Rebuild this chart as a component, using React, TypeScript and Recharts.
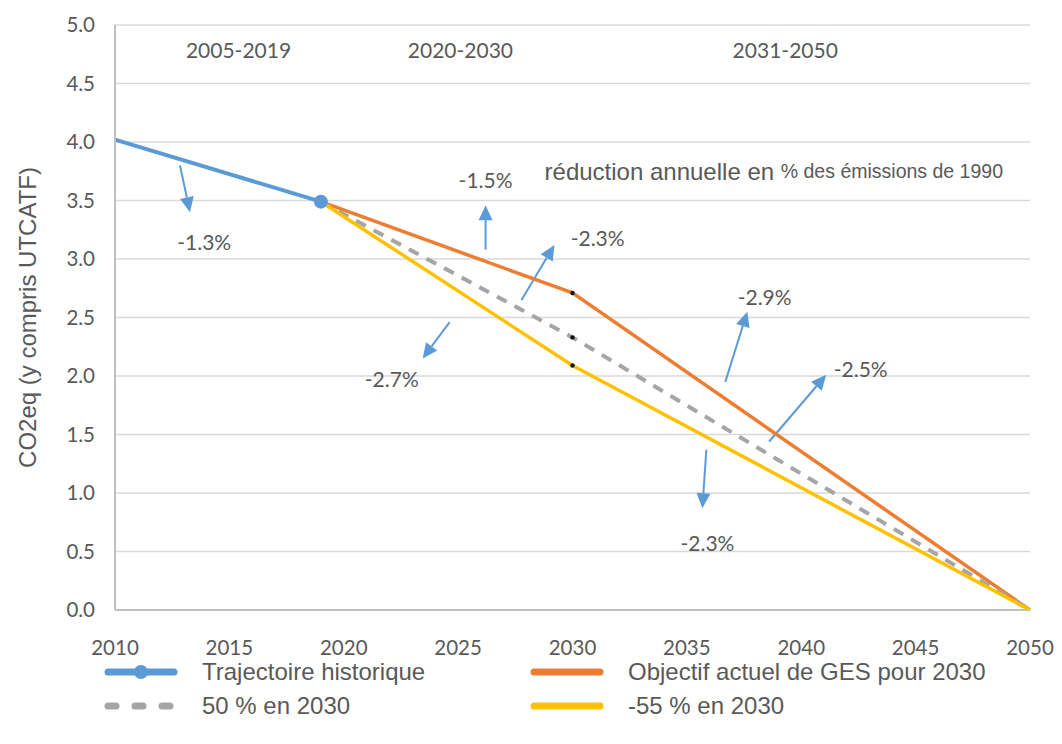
import {
  LineChart,
  Line,
  XAxis,
  YAxis,
  CartesianGrid,
  ReferenceLine,
  ReferenceDot,
} from "recharts";

// années et trajectoires (Gt CO2eq)
const years = [2010, 2019, 2030, 2050];
const historique = [4.02, 3.49, null, null];
const objectifActuel = [null, 3.49, 2.71, 0];
const cinquante = [null, 3.49, 2.33, 0];
const cinquanteCinq = [null, 3.49, 2.09, 0];

const xTicks = [2010, 2015, 2020, 2025, 2030, 2035, 2040, 2045, 2050];
const yTicks = [0, 0.5, 1, 1.5, 2, 2.5, 3, 3.5, 4, 4.5, 5];

// périodes en haut du graphique
const periodLabels = ["2005-2019", "2020-2030", "2031-2050"];
const periodX = [2015.4, 2025.1, 2039.3];
const periodY = 4.79;

// flèches de réduction annuelle : [x, y] départ -> arrivée
const arrowFrom = [
  [2012.84, 3.8],
  [2026.2, 3.08],
  [2027.77, 2.65],
  [2024.63, 2.46],
  [2036.68, 1.95],
  [2038.6, 1.44],
  [2035.85, 1.37],
];
const arrowTo = [
  [2013.28, 3.4],
  [2026.2, 3.46],
  [2029.21, 3.12],
  [2023.45, 2.15],
  [2037.64, 2.55],
  [2041.09, 2.01],
  [2035.68, 0.87],
];
const rateLabels = ["-1.3%", "-1.5%", "-2.3%", "-2.7%", "-2.9%", "-2.5%", "-2.3%"];
const rateX = [2013.9, 2026.2, 2031.1, 2022.1, 2038.4, 2042.6, 2035.9];
const rateY = [3.15, 3.68, 3.18, 1.98, 2.68, 2.06, 0.58];

const data = years.map((y, i) => ({
  year: y,
  historique: historique[i],
  objectif: objectifActuel[i],
  cinquante: cinquante[i],
  cinquanteCinq: cinquanteCinq[i],
}));

const BLUE = "#5B9BD5";
const ORANGE = "#ED7D31";
const GREY = "#A5A5A5";
const YELLOW = "#FFC000";
const TEXT = "#595959";
const NUM_FONT = "Lato, 'Open Sans', sans-serif";
const SANS = "'Liberation Sans', Arial, sans-serif";

const series = [
  { key: "historique", name: "Trajectoire historique", color: BLUE, dash: undefined, marker: true },
  { key: "cinquante", name: "50 % en 2030", color: GREY, dash: "8 19", marker: false },
  { key: "objectif", name: "Objectif actuel de GES pour 2030", color: ORANGE, dash: undefined, marker: false },
  { key: "cinquanteCinq", name: "-55 % en 2030", color: YELLOW, dash: undefined, marker: false },
];

function Arrow(props: any) {
  const { x1, y1, x2, y2 } = props;
  const dx = x2 - x1;
  const dy = y2 - y1;
  const len = Math.sqrt(dx * dx + dy * dy) || 1;
  const ux = dx / len;
  const uy = dy / len;
  const head = 15;
  const half = 7;
  const bx = x2 - ux * head;
  const by = y2 - uy * head;
  const pts = `${x2},${y2} ${bx - uy * half},${by + ux * half} ${bx + uy * half},${by - ux * half}`;
  return (
    <g>
      <line x1={x1} y1={y1} x2={bx} y2={by} stroke={BLUE} strokeWidth={2} />
      <polygon points={pts} fill={BLUE} />
    </g>
  );
}

function histDot(p: any) {
  if (p.index !== 1) return <g key={p.key ?? p.index} />;
  return <circle key={p.key ?? p.index} cx={p.cx} cy={p.cy} r={7} fill={BLUE} />;
}

function blackDot(p: any) {
  if (p.index !== 2) return <g key={p.key ?? p.index} />;
  return <circle key={p.key ?? p.index} cx={p.cx} cy={p.cy} r={2.2} fill="#111" />;
}

function LegendItem({ s }: any) {
  return (
    <div style={{ display: "flex", alignItems: "center", height: 34 }}>
      <svg width={98} height={20}>
        <line
          x1={4}
          y1={10}
          x2={70}
          y2={10}
          stroke={s.color}
          strokeWidth={7}
          strokeLinecap="round"
          strokeDasharray={s.dash}
        />
        {s.marker && <circle cx={37} cy={10} r={7} fill={s.color} />}
      </svg>
      <span style={{ fontFamily: SANS, fontSize: 24, color: TEXT }}>{s.name}</span>
    </div>
  );
}

export default function App() {
  return (
    <div style={{ position: "absolute", left: 0, top: 0, width: 1062, height: 744, background: "#fff" }}>
      <LineChart
        width={1062}
        height={744}
        data={data}
        margin={{ top: 25, right: 32, left: 55, bottom: 94 }}
      >
        <CartesianGrid vertical={false} stroke="#D9D9D9" strokeWidth={1.5} />
        <XAxis
          dataKey="year"
          type="number"
          domain={[2010, 2050]}
          ticks={xTicks}
          height={40}
          tickSize={0}
          tickMargin={30}
          axisLine={{ stroke: "#BFBFBF", strokeWidth: 2 }}
          tick={{ fill: TEXT, fontSize: 20.5, fontFamily: NUM_FONT }}
        />
        <YAxis
          type="number"
          domain={[0, 5]}
          ticks={yTicks}
          width={60}
          tickSize={0}
          tickMargin={20}
          tickFormatter={(v: number) => v.toFixed(1)}
          axisLine={{ stroke: "#BFBFBF", strokeWidth: 2 }}
          tick={{ fill: TEXT, fontSize: 20.5, fontFamily: NUM_FONT }}
          label={{
            content: ({ viewBox }: any) => {
              const cx = viewBox.x - 28;
              const cy = viewBox.y + viewBox.height / 2;
              return (
                <text
                  x={cx}
                  y={cy}
                  transform={`rotate(-90 ${cx} ${cy})`}
                  textAnchor="middle"
                  dominantBaseline="central"
                  fill={TEXT}
                  fontSize={24}
                  fontFamily={SANS}
                >
                  CO2eq (y compris UTCATF)
                </text>
              );
            },
          }}
        />

        {periodLabels.map((t, i) => (
          <ReferenceDot
            key={t}
            x={periodX[i]}
            y={periodY}
            r={0}
            shape={(p: any) => (
              <text x={p.cx} y={p.cy} textAnchor="middle" dominantBaseline="central" fill={TEXT} fontSize={21} fontFamily={NUM_FONT}>
                {t}
              </text>
            )}
          />
        ))}

        <ReferenceDot
          x={2028.78}
          y={3.75}
          r={0}
          shape={(p: any) => (
            <text x={p.cx} y={p.cy} textAnchor="start" dominantBaseline="central" fill={TEXT} fontFamily={SANS}>
              <tspan fontSize={24}>réduction annuelle en </tspan>
              <tspan fontSize={19.5}>% des émissions de 1990</tspan>
            </text>
          )}
        />

        {arrowFrom.map((a, i) => (
          <ReferenceLine
            key={"arr" + i}
            segment={[
              { x: a[0], y: a[1] },
              { x: arrowTo[i][0], y: arrowTo[i][1] },
            ]}
            shape={Arrow}
          />
        ))}

        {rateLabels.map((t, i) => (
          <ReferenceDot
            key={"rate" + i}
            x={rateX[i]}
            y={rateY[i]}
            r={0}
            shape={(p: any) => (
              <text x={p.cx} y={p.cy} textAnchor="middle" dominantBaseline="central" fill={TEXT} fontSize={21} fontFamily={NUM_FONT}>
                {t}
              </text>
            )}
          />
        ))}

        <Line
          dataKey="historique"
          stroke={BLUE}
          strokeWidth={4}
          dot={histDot}
          activeDot={false}
          isAnimationActive={false}
        />
        <Line
          dataKey="objectif"
          stroke={ORANGE}
          strokeWidth={3.5}
          dot={blackDot}
          activeDot={false}
          isAnimationActive={false}
        />
        <Line
          dataKey="cinquante"
          stroke={GREY}
          strokeWidth={4}
          strokeDasharray="11 9"
          dot={blackDot}
          activeDot={false}
          isAnimationActive={false}
        />
        <Line
          dataKey="cinquanteCinq"
          stroke={YELLOW}
          strokeWidth={3.5}
          dot={blackDot}
          activeDot={false}
          isAnimationActive={false}
        />
      </LineChart>

      <div style={{ position: "absolute", left: 104, top: 655 }}>
        <LegendItem s={series[0]} />
        <LegendItem s={series[1]} />
      </div>
      <div style={{ position: "absolute", left: 530, top: 655 }}>
        <LegendItem s={series[2]} />
        <LegendItem s={series[3]} />
      </div>
    </div>
  );
}
